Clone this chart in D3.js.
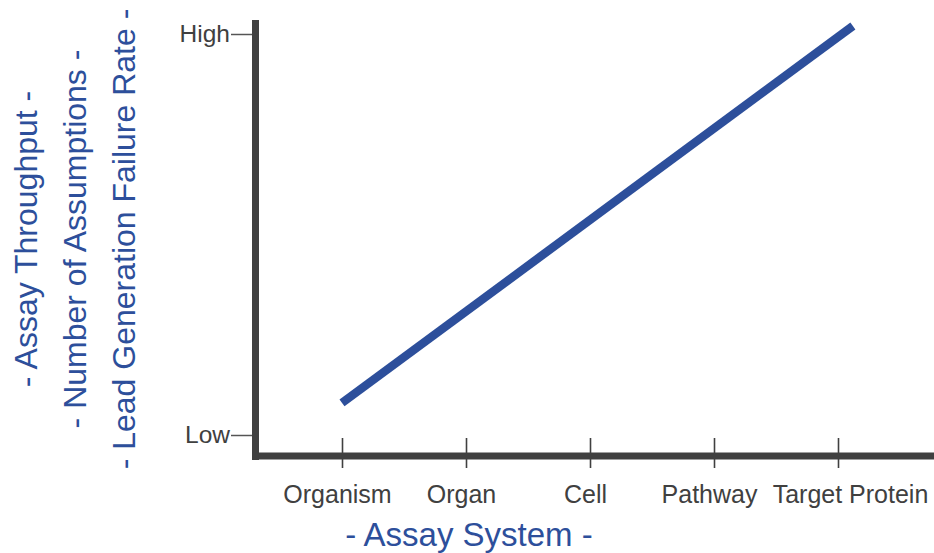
<!DOCTYPE html>
<html>
<head>
<meta charset="utf-8">
<script src="https://cdn.jsdelivr.net/npm/d3@7"></script>
<style>
  body { margin: 0; background: #fff; }
  svg { display: block; font-family: "Liberation Sans", Arial, sans-serif; }
</style>
</head>
<body>
<div id="chart"></div>
<script>
// categories along the x axis
const systems = ['Organism', 'Organ', 'Cell', 'Pathway', 'Target Protein']
// y axis levels
const levels = [0, 1]
const levelLabels = ['Low', 'High']
// the trend line: position along systems (index) and level
const trendX = [0, 4.12]
const trendY = [0.08, 1.02]
const yTitles = ['- Assay Throughput -', '- Number of Assumptions -', '- Lead Generation Failure Rate -']
const xTitle = '- Assay System -'

const width = 934
const height = 553
const axisColor = '#404040'
const blue = '#2d4f9b'

const svg = d3.select('#chart')
    .append('svg')
    .attr('width', width)
    .attr('height', height)

const xScale = d3.scaleLinear()
    .domain([0, systems.length - 1])
    .range([342, 838])

const yScale = d3.scaleLinear()
    .domain([0, 1])
    .range([435, 34])

const originX = 252
const originY = 456

// y axis ticks
const yAxis = d3.axisLeft(yScale)
    .tickValues(levels)
    .tickFormat((d, i) => levelLabels[i])
    .tickSize(21)
    .tickPadding(1)
const gy = svg.append('g')
    .attr('transform', `translate(${originX},0)`)
    .call(yAxis)
gy.select('.domain').remove()
gy.selectAll('.tick line').attr('stroke', '#555').attr('stroke-width', 1.5)
gy.selectAll('.tick text')
    .attr('fill', axisColor)
    .attr('font-size', 24.5)
    .attr('font-family', '"Liberation Sans", Arial, sans-serif')
    .attr('dy', '0.3em')

// x axis ticks
const xAxis = d3.axisBottom(xScale)
    .tickValues(d3.range(systems.length))
    .tickFormat(i => systems[i])
    .tickSize(12)
const gx = svg.append('g')
    .attr('transform', `translate(0,${originY})`)
    .call(xAxis)
gx.select('.domain').remove()
gx.selectAll('.tick line')
    .attr('y1', -18)
    .attr('stroke', axisColor)
    .attr('stroke-width', 1.6)
gx.selectAll('.tick text')
    .attr('fill', axisColor)
    .attr('font-size', 25)
    .attr('font-family', '"Liberation Sans", Arial, sans-serif')
    .attr('y', 47)
    .attr('dy', 0)
    .attr('dx', (d, i) => i === systems.length - 1 ? 12 : -5)

// thick axis lines
svg.append('line')
    .attr('x1', originX + 3.5).attr('x2', originX + 3.5)
    .attr('y1', 20).attr('y2', originY + 4)
    .attr('stroke', axisColor).attr('stroke-width', 7)
svg.append('line')
    .attr('x1', originX).attr('x2', width)
    .attr('y1', originY).attr('y2', originY)
    .attr('stroke', axisColor).attr('stroke-width', 7)

// trend line
const pts = trendX.map((x, i) => [x, trendY[i]])
svg.append('path')
    .datum(pts)
    .attr('d', d3.line().x(d => xScale(d[0])).y(d => yScale(d[1])))
    .attr('fill', 'none')
    .attr('stroke', blue)
    .attr('stroke-width', 8.5)
    .attr('stroke-linecap', 'butt')

// axis titles
svg.selectAll('.ytitle')
    .data(yTitles)
    .enter()
    .append('text')
    .attr('class', 'ytitle')
    .attr('transform', (d, i) => `translate(${37 + i * 49},239) rotate(-90)`)
    .attr('text-anchor', 'middle')
    .attr('fill', blue)
    .attr('font-size', 32)
    .text(d => d)

svg.append('text')
    .attr('x', 469)
    .attr('y', 546)
    .attr('text-anchor', 'middle')
    .attr('fill', blue)
    .attr('font-size', 33)
    .text(xTitle)
</script>
</body>
</html>
